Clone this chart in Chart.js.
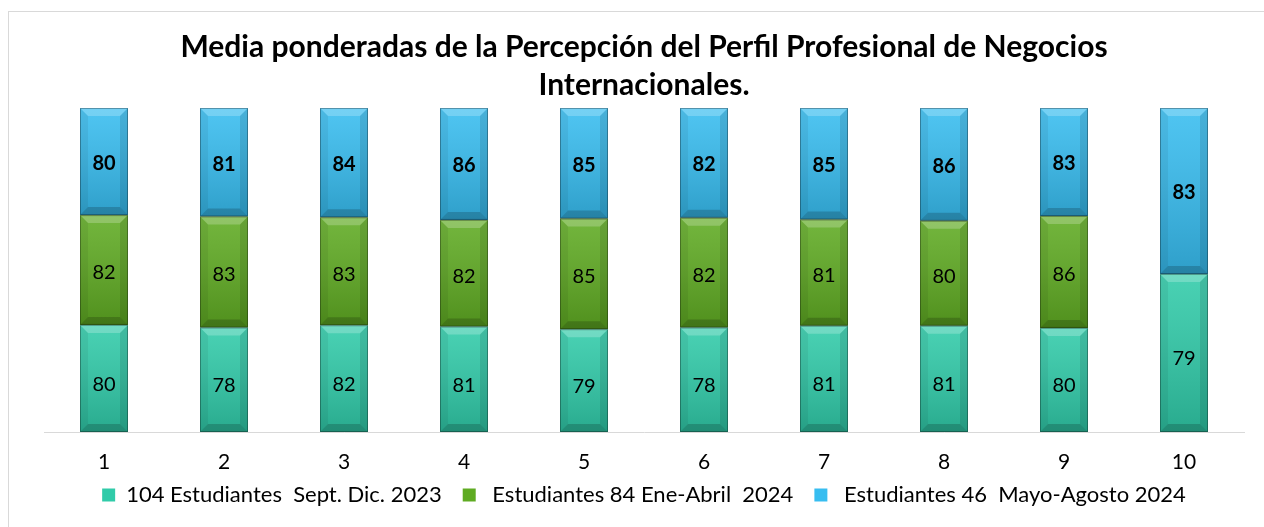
<!DOCTYPE html>
<html>
<head>
<meta charset="utf-8">
<script src="https://cdn.jsdelivr.net/npm/chart.js@4.4.1/dist/chart.umd.min.js"></script>
<style>
  body { margin: 0; background: #fff; }
  #wrap { position: relative; width: 1264px; height: 527px; overflow: hidden; }
  #frame { position: absolute; left: 8px; top: 11px; width: 1300px; height: 540px; border: 1px solid #d9d9d9; }
  canvas { position: absolute; left: 0; top: 0; }
</style>
</head>
<body>
<div id="wrap">
  <div id="frame"></div>
  <canvas id="chart" width="1264" height="527"></canvas>
</div>
<script>
var categories = ["1", "2", "3", "4", "5", "6", "7", "8", "9", "10"];
var sept2023 = [80, 78, 82, 81, 79, 78, 81, 81, 80, 79];
var eneAbril2024 = [82, 83, 83, 82, 85, 82, 81, 80, 86, null];
var mayoAgosto2024 = [80, 81, 84, 86, 85, 82, 85, 86, 83, 83];
var seriesNames = ["104 Estudiantes  Sept. Dic. 2023", " Estudiantes 84 Ene-Abril  2024", " Estudiantes 46  Mayo-Agosto 2024"];

// 100% stacked: each column share of its total
function toPercent(values) {
  return values.map(function (v, i) {
    if (v == null) return null;
    var total = (sept2023[i] || 0) + (eneAbril2024[i] || 0) + (mayoAgosto2024[i] || 0);
    return v / total * 100;
  });
}

var rawValues = [sept2023, eneAbril2024, mayoAgosto2024];
var labelBold = [false, false, true];
var labelNudge = [6, 3, 2];

var bevelPlugin = {
  id: 'bevel',
  afterDatasetsDraw(chart) {
    var ctx = chart.ctx;
    chart.data.datasets.forEach(function (ds, di) {
      var meta = chart.getDatasetMeta(di);
      meta.data.forEach(function (bar, i) {
        if (rawValues[di][i] == null) return;
        var w = bar.width, l = bar.x - w / 2, r = bar.x + w / 2;
        var t = Math.min(bar.y, bar.base), b = Math.max(bar.y, bar.base);
        var bv = 8;
        ctx.save();
        // soft vertical shading
        var g = ctx.createLinearGradient(0, t, 0, b);
        g.addColorStop(0, 'rgba(255,255,255,0.12)');
        g.addColorStop(1, 'rgba(0,0,0,0.16)');
        ctx.fillStyle = g;
        ctx.fillRect(l, t, w, b - t);
        // top highlight
        ctx.fillStyle = 'rgba(255,255,255,0.22)';
        ctx.beginPath();
        ctx.moveTo(l, t); ctx.lineTo(r, t); ctx.lineTo(r - bv, t + bv); ctx.lineTo(l + bv, t + bv);
        ctx.closePath(); ctx.fill();
        // bottom shade
        ctx.fillStyle = 'rgba(0,0,0,0.18)';
        ctx.beginPath();
        ctx.moveTo(l, b); ctx.lineTo(r, b); ctx.lineTo(r - bv, b - bv); ctx.lineTo(l + bv, b - bv);
        ctx.closePath(); ctx.fill();
        // sides
        ctx.fillStyle = 'rgba(0,0,0,0.06)';
        ctx.beginPath();
        ctx.moveTo(l, t); ctx.lineTo(l + bv, t + bv); ctx.lineTo(l + bv, b - bv); ctx.lineTo(l, b);
        ctx.closePath(); ctx.fill();
        ctx.fillStyle = 'rgba(0,0,0,0.1)';
        ctx.beginPath();
        ctx.moveTo(r, t); ctx.lineTo(r - bv, t + bv); ctx.lineTo(r - bv, b - bv); ctx.lineTo(r, b);
        ctx.closePath(); ctx.fill();
        ctx.strokeStyle = 'rgba(0,0,0,0.3)';
        ctx.lineWidth = 1;
        ctx.strokeRect(l + 0.5, t + 0.5, w - 1, b - t - 1);
        ctx.restore();
      });
    });
  }
};

var valueLabels = {
  id: 'valueLabels',
  afterDatasetsDraw(chart) {
    var ctx = chart.ctx;
    ctx.save();
    ctx.fillStyle = '#000';
    ctx.textAlign = 'center';
    ctx.textBaseline = 'middle';
    chart.data.datasets.forEach(function (ds, di) {
      var meta = chart.getDatasetMeta(di);
      ctx.font = (labelBold[di] ? 'bold ' : '') + '20px Lato';
      meta.data.forEach(function (bar, i) {
        var v = rawValues[di][i];
        if (v == null) return;
        ctx.fillText(String(v), bar.x, (bar.y + bar.base) / 2 + labelNudge[di]);
      });
    });
    ctx.restore();
  }
};

// pull the legend up closer to the tick labels
var legendShift = {
  id: 'legendShift',
  afterLayout(chart) {
    if (chart.legend) {
      chart.legend.top -= 11;
      chart.legend.bottom -= 11;
    }
  }
};

var ctx = document.getElementById('chart').getContext('2d');
var chart = new Chart(ctx, {
  type: 'bar',
  data: {
    labels: categories,
    datasets: [
      { label: seriesNames[0], data: toPercent(sept2023), backgroundColor: '#30cba9' },
      { label: seriesNames[1], data: toPercent(eneAbril2024), backgroundColor: '#5fab22' },
      { label: seriesNames[2], data: toPercent(mayoAgosto2024), backgroundColor: '#37bdf0' }
    ]
  },
  options: {
    responsive: false,
    animation: false,
    layout: { padding: { left: 44, right: 20, top: 0, bottom: 0 } },
    datasets: { bar: { barPercentage: 0.4, categoryPercentage: 1 } },
    scales: {
      x: {
        stacked: true,
        grid: { display: false, drawTicks: false },
        border: { display: true, color: '#d9d9d9', width: 1 },
        ticks: { color: '#000', padding: 18, font: { family: 'Lato', size: 21 } },
        afterFit: function (scale) { scale.height = 42; }
      },
      y: { stacked: true, display: false, min: 0, max: 100 }
    },
    plugins: {
      title: {
        display: true,
        text: ['Media ponderadas de la Percepción del Perfil Profesional de Negocios', 'Internacionales.'],
        color: '#000',
        font: { family: 'Lato', size: 30, weight: 'bold', lineHeight: 1.267 },
        padding: { top: 28, bottom: 4 }
      },
      legend: {
        position: 'bottom',
        labels: {
          color: '#000',
          boxWidth: 13,
          boxHeight: 13,
          padding: 21,
          font: { family: 'Lato', size: 22 }
        }
      },
      tooltip: { enabled: false }
    }
  },
  plugins: [bevelPlugin, valueLabels, legendShift]
});
</script>
</body>
</html>
